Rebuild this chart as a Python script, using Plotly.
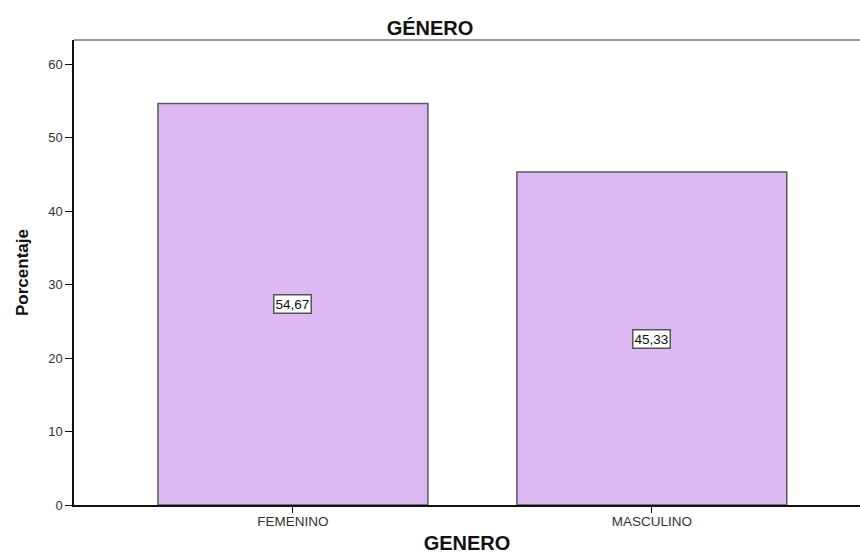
import plotly.graph_objects as go

categorias = ["FEMENINO", "MASCULINO"]
porcentajes = [54.67, 45.33]
etiquetas = ["54,67", "45,33"]
y_ticks = [0, 10, 20, 30, 40, 50, 60]

FONT = "Liberation Sans, Arial, sans-serif"

fig = go.Figure()
fig.add_trace(go.Bar(
    x=categorias,
    y=porcentajes,
    width=0.752,
    marker=dict(color="#DDB9F2", line=dict(color="#5a5560", width=1.5)),
    hoverinfo="skip",
))

# value boxes at mid-height of each bar
for cat, val, txt in zip(categorias, porcentajes, etiquetas):
    fig.add_annotation(
        x=cat, y=val / 2, text=txt, showarrow=False,
        font=dict(family=FONT, size=13.5, color="#111"),
        bgcolor="white", bordercolor="#555", borderwidth=1.5, borderpad=1,
    )

# gray frame line on top of plot area
fig.add_shape(type="line", xref="paper", yref="paper", x0=0, x1=1, y0=1, y1=1,
              line=dict(color="#999", width=2))

fig.update_layout(
    width=860, height=554,
    margin=dict(l=74, r=0, t=40, b=49),
    paper_bgcolor="white", plot_bgcolor="white",
    showlegend=False,
    title=dict(text="<b>GÉNERO</b>", x=0.5, xanchor="center", y=0.95, yanchor="middle",
               font=dict(family=FONT, size=20, color="#111")),
    xaxis=dict(
        range=[-0.61, 1.58], showgrid=False, zeroline=False,
        showline=True, linecolor="#111", linewidth=1.5,
        ticks="outside", ticklen=6, tickcolor="#111",
        ticklabelstandoff=-3,
        tickfont=dict(family=FONT, size=13.5, color="#333"),
        title=dict(text="<b>GENERO</b>", standoff=10,
                   font=dict(family=FONT, size=20, color="#111")),
    ),
    yaxis=dict(
        range=[0, 63.3], showgrid=False, zeroline=False,
        showline=True, linecolor="#111", linewidth=1.5,
        tickvals=y_ticks, ticks="outside", ticklen=7, tickcolor="#111",
        tickfont=dict(family=FONT, size=13, color="#333"),
        title=dict(text="<b>Porcentaje</b>", standoff=15,
                   font=dict(family=FONT, size=17, color="#111")),
    ),
)

fig.write_html("out.html")
